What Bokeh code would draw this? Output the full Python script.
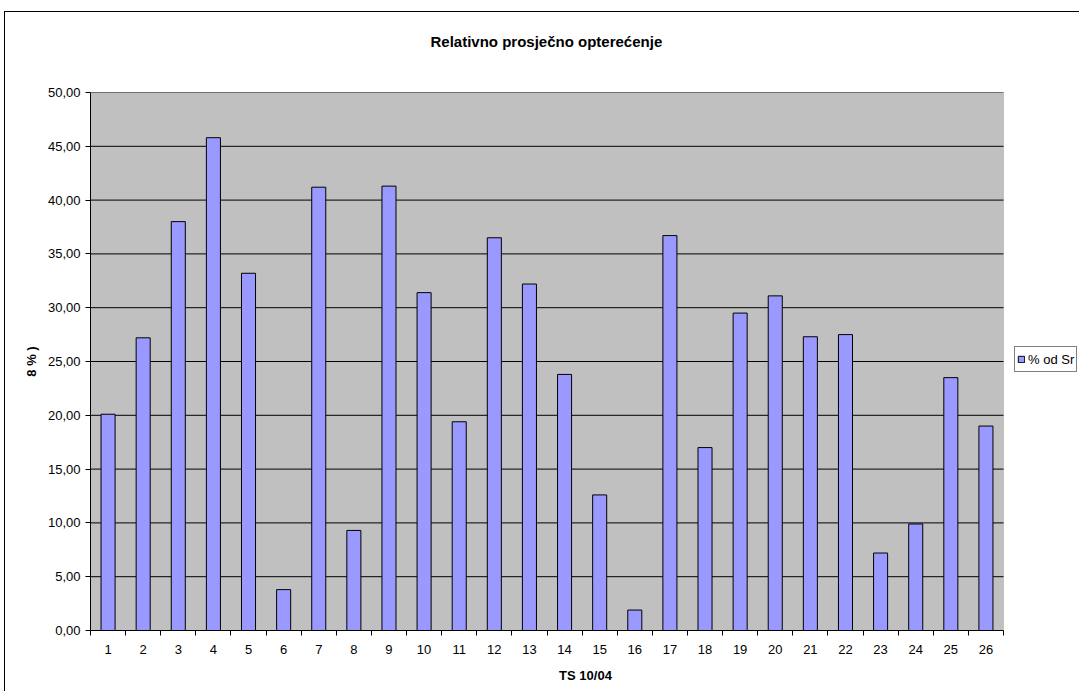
from bokeh.plotting import figure
from bokeh.models import (FixedTicker, Range1d, Legend, LegendItem,
                          ColumnDataSource, Title, BoxAnnotation, LinearAxis)
from bokeh.embed import file_html
from bokeh.resources import INLINE

# ---- data ----
categories = [str(i) for i in range(1, 27)]
values = [20.1, 27.2, 38.0, 45.8, 33.2, 3.8, 41.2, 9.3, 41.3, 31.4,
          19.4, 36.5, 32.2, 23.8, 12.6, 1.9, 36.7, 17.0, 29.5, 31.1,
          27.3, 27.5, 7.2, 9.9, 23.5, 19.0]
y_ticks = [0, 5, 10, 15, 20, 25, 30, 35, 40, 45, 50]
y_tick_labels = ["0,00", "5,00", "10,00", "15,00", "20,00", "25,00",
                 "30,00", "35,00", "40,00", "45,00", "50,00"]
title_text = "Relativno prosječno opterećenje"
x_title = "TS 10/04"
y_title = "8 % )"
series_name = "% od Sr"

FONT = "Liberation Sans"
n = len(categories)
x_pos = list(range(1, n + 1))
boundaries = [x - 0.5 for x in x_pos] + [x_pos[-1] + 0.5]
x_lo, x_hi = 0.5, n + 0.5
y_lo, y_hi = y_ticks[0], y_ticks[-1]

src = ColumnDataSource(dict(x=x_pos, top=values, cat=categories))
grid_src = ColumnDataSource(dict(y=y_ticks[1:], x0=[x_lo] * (len(y_ticks) - 1),
                                 x1=[x_hi] * (len(y_ticks) - 1)))

# layout: plotting area is 913 px wide; frame extends to the right edge
W, H = 1075, 680
LEFT = 85
PLOT_PX = 913
frame_px = W - LEFT
x_end = x_lo + (x_hi - x_lo) * frame_px / PLOT_PX

p = figure(width=W, height=H,
           x_range=Range1d(x_lo, x_end),
           y_range=Range1d(y_lo, y_hi),
           output_backend="svg", toolbar_location=None,
           min_border_left=LEFT, min_border_right=0,
           min_border_top=80, min_border_bottom=62)
p.styles = {"margin-left": "4px", "margin-top": "11px",
            "border-left": "1px solid black", "border-top": "1px solid black"}

p.background_fill_color = "white"
p.border_fill_color = "white"
p.outline_line_color = None

# gray plotting area
p.add_layout(BoxAnnotation(left=x_lo, right=x_hi, bottom=y_lo, top=y_hi,
                           fill_color="#C0C0C0", fill_alpha=1,
                           line_color="#808080", line_width=1,
                           level="underlay"))

# spacer between frame and title
p.add_layout(Title(text=" ", text_font_size="1px", standoff=40), "above")

# title
p.title.text = title_text
p.title.align = "left"
p.title.offset = 340
p.title.text_font = FONT
p.title.text_font_size = "15px"
p.title.text_font_style = "bold"
p.title.text_color = "black"
p.title.standoff = 0

# horizontal gridlines
p.segment(x0="x0", x1="x1", y0="y", y1="y", source=grid_src,
          line_color="black", line_width=1)

r = p.vbar(x="x", top="top", width=0.4, source=src,
           fill_color="#9999FF", line_color="black", line_width=1)

# y axis
yt = FixedTicker(ticks=y_ticks, minor_ticks=[])
p.yaxis.ticker = yt
p.yaxis.major_label_overrides = dict(zip(y_ticks, y_tick_labels))
p.yaxis.major_tick_out = 5
p.yaxis.major_tick_in = 0
p.yaxis.minor_tick_out = 0
p.yaxis.minor_tick_in = 0
p.yaxis.major_label_standoff = 5
p.yaxis.major_label_text_font = FONT
p.yaxis.major_label_text_font_size = "13px"
p.yaxis.major_label_text_color = "black"
p.yaxis.axis_line_color = "black"
p.yaxis.major_tick_line_color = "black"

# outer left axis carrying only the (slightly raised) y title
ytitle_axis = LinearAxis(ticker=FixedTicker(ticks=[], minor_ticks=[]),
                         bounds=(3.7, y_hi),
                         axis_line_color=None, major_tick_out=0,
                         major_tick_in=0, minor_tick_out=0, minor_tick_in=0,
                         major_label_standoff=0,
                         axis_label=y_title, axis_label_standoff=6,
                         axis_label_text_font=FONT,
                         axis_label_text_font_size="13px",
                         axis_label_text_font_style="bold",
                         axis_label_text_color="black")
p.add_layout(ytitle_axis, "left")

# x axis
xt = FixedTicker(ticks=x_pos, minor_ticks=boundaries)
p.xaxis.ticker = xt
p.xaxis.bounds = (x_lo, x_hi)
p.xaxis.major_label_overrides = dict(zip(x_pos, categories))
p.xaxis.major_tick_out = 0
p.xaxis.major_tick_in = 0
p.xaxis.minor_tick_out = 5
p.xaxis.minor_tick_in = 0
p.xaxis.minor_tick_line_color = "black"
p.xaxis.major_label_standoff = 9
p.xaxis.major_label_text_font = FONT
p.xaxis.major_label_text_font_size = "13px"
p.xaxis.major_label_text_color = "black"
p.xaxis.axis_line_color = "black"
p.xaxis.axis_label = x_title
p.xaxis.axis_label_text_font = FONT
p.xaxis.axis_label_text_font_size = "13px"
p.xaxis.axis_label_text_font_style = "bold"
p.xaxis.axis_label_text_color = "black"
p.xaxis.axis_label_standoff = 11

# grid handled by segments
p.xgrid.visible = False
p.ygrid.visible = False

# legend, to the right of the plotting area
legend = Legend(items=[LegendItem(label=series_name, renderers=[r])],
                location=(PLOT_PX + 11, 258), orientation="vertical",
                border_line_color="black", border_line_width=1,
                background_fill_color="white", background_fill_alpha=1,
                label_text_font=FONT, label_text_font_size="13px",
                label_text_color="black",
                glyph_width=8, glyph_height=8, label_standoff=3,
                padding=2, spacing=0, margin=0, label_height=20)
p.add_layout(legend)

open("out.html", "w").write(file_html(p, INLINE))
